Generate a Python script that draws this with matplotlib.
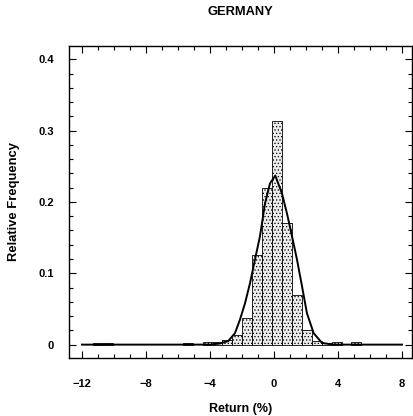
import matplotlib.pyplot as plt
from matplotlib.ticker import MultipleLocator

plt.rcParams['font.family'] = ['Liberation Sans', 'DejaVu Sans']
plt.rcParams['hatch.color'] = '#7a7a7a'
plt.rcParams['hatch.linewidth'] = 0.5

# histogram: left bin edges and relative frequencies (bin width 0.62)
bin_left = [-11.28, -10.66, -5.70, -4.46, -3.84, -3.22, -2.60, -1.98, -1.36,
            -0.74, -0.12, 0.50, 1.12, 1.74, 2.36, 2.98, 3.60, 4.84]
freq = [0.002, 0.002, 0.002, 0.003, 0.004, 0.006, 0.014, 0.038, 0.125,
        0.220, 0.313, 0.170, 0.070, 0.020, 0.005, 0.002, 0.003, 0.003]
bin_width = 0.62

# fitted density curve
curve_x = [-12.0, -4.0, -3.4, -2.86, -2.44, -2.125, -1.81, -1.5, -1.19, -0.875,
           -0.56, -0.25, 0.08, 0.5, 0.81, 1.125, 1.44, 1.75, 2.06, 2.48,
           3.0, 3.7, 8.0]
curve_y = [0.0, 0.0, 0.0015, 0.005, 0.016, 0.035, 0.058, 0.086, 0.119, 0.152,
           0.198, 0.226, 0.237, 0.212, 0.184, 0.152, 0.119, 0.082, 0.044, 0.016,
           0.0024, 0.0, 0.0]

fig = plt.figure(figsize=(4.14, 4.16), dpi=100)
ax = fig.add_axes([0.167, 0.139, 0.828, 0.751])

ax.bar(bin_left, freq, width=bin_width, align='edge', facecolor='#ececec',
       edgecolor='black', linewidth=0.6, hatch='.....')
ax.plot(curve_x, curve_y, color='black', linewidth=1.4)

ax.set_xlim(-12.8, 8.62)
ax.set_ylim(-0.019, 0.419)
ax.xaxis.set_major_locator(MultipleLocator(4))
ax.xaxis.set_minor_locator(MultipleLocator(1))
ax.yaxis.set_minor_locator(MultipleLocator(0.02))
ax.set_yticks([0, 0.1, 0.2, 0.3, 0.4])
ax.set_yticklabels(['0', '0.1', '0.2', '0.3', '0.4'])
ax.tick_params(which='both', direction='in', top=True, right=True,
               labelsize=8, width=0.8)
ax.tick_params(axis='x', which='major', length=5, pad=15)
ax.tick_params(axis='y', which='major', length=5, pad=11)
ax.tick_params(which='minor', length=3)
for lab in ax.get_xticklabels() + ax.get_yticklabels():
    lab.set_fontweight('bold')
for s in ax.spines.values():
    s.set_linewidth(1.0)

ax.set_xlabel('Return (%)', fontsize=9, fontweight='bold', labelpad=10)
ax.set_ylabel('Relative Frequency', fontsize=9.4, fontweight='bold', labelpad=13)
ax.set_title('GERMANY', fontsize=9.3, fontweight='bold', pad=22)

fig.savefig('out.png', dpi=100)
